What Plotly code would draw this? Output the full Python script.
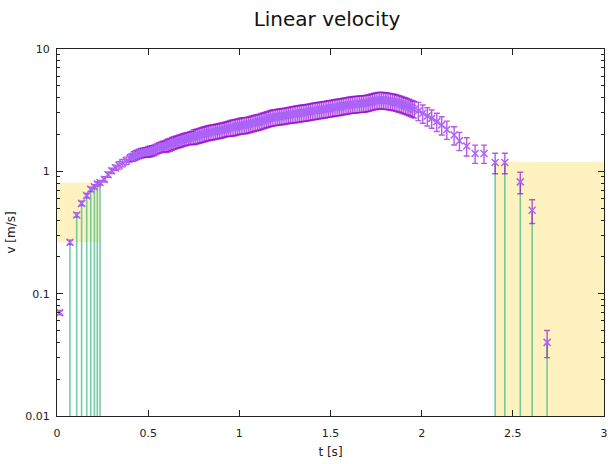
import plotly.graph_objects as go

# ---- data ----
t_pts = [
    0.015, 0.071, 0.108, 0.135, 0.163, 0.185, 0.205, 0.221, 0.236,
    0.26, 0.28, 0.30, 0.32, 0.34, 0.36, 0.38,
    0.40, 0.41, 0.42, 0.43, 0.44, 0.45, 0.46, 0.47, 0.48, 0.49,
    0.50, 0.51, 0.52, 0.53, 0.54, 0.55, 0.56, 0.57, 0.58, 0.59,
    0.60, 0.61, 0.62, 0.63, 0.64, 0.65, 0.66, 0.67, 0.68, 0.69,
    0.70, 0.71, 0.72, 0.73, 0.74, 0.75, 0.76, 0.77, 0.78, 0.79,
    0.80, 0.81, 0.82, 0.83, 0.84, 0.85, 0.86, 0.87, 0.88, 0.89,
    0.90, 0.91, 0.92, 0.93, 0.94, 0.95, 0.96, 0.97, 0.98, 0.99,
    1.00, 1.01, 1.02, 1.03, 1.04, 1.05, 1.06, 1.07, 1.08, 1.09,
    1.10, 1.11, 1.12, 1.13, 1.14, 1.15, 1.16, 1.17, 1.18, 1.19,
    1.20, 1.21, 1.22, 1.23, 1.24, 1.25, 1.26, 1.27, 1.28, 1.29,
    1.30, 1.31, 1.32, 1.33, 1.34, 1.35, 1.36, 1.37, 1.38, 1.39,
    1.40, 1.41, 1.42, 1.43, 1.44, 1.45, 1.46, 1.47, 1.48, 1.49,
    1.50, 1.51, 1.52, 1.53, 1.54, 1.55, 1.56, 1.57, 1.58, 1.59,
    1.60, 1.61, 1.62, 1.63, 1.64, 1.65, 1.66, 1.67, 1.68, 1.69,
    1.70, 1.71, 1.72, 1.73, 1.74, 1.75, 1.76, 1.77, 1.78, 1.79,
    1.80, 1.81, 1.82, 1.83, 1.84, 1.85, 1.86, 1.87, 1.88, 1.89,
    1.90, 1.91, 1.92, 1.93, 1.94, 1.95, 1.96,
    1.982, 2.006, 2.031, 2.055, 2.083, 2.110, 2.138, 2.178, 2.207,
    2.247, 2.293, 2.342, 2.403, 2.456, 2.541, 2.606, 2.688,
]
v_pts = [
    0.070, 0.263, 0.44, 0.547, 0.633, 0.713, 0.749, 0.79, 0.81,
    0.86, 0.94, 1.01, 1.07, 1.12, 1.17, 1.22,
    1.28, 1.30, 1.33, 1.35, 1.37, 1.39, 1.41, 1.42, 1.43, 1.44,
    1.45, 1.46, 1.47, 1.49, 1.51, 1.54, 1.56, 1.58, 1.60, 1.61,
    1.62, 1.64, 1.66, 1.69, 1.71, 1.73, 1.75, 1.77, 1.79, 1.81,
    1.83, 1.85, 1.86, 1.88, 1.90, 1.92, 1.93, 1.95, 1.97, 1.99,
    2.01, 2.03, 2.05, 2.07, 2.09, 2.10, 2.11, 2.13, 2.14, 2.16,
    2.17, 2.19, 2.21, 2.23, 2.25, 2.27, 2.28, 2.30, 2.31, 2.33,
    2.35, 2.37, 2.38, 2.39, 2.40, 2.42, 2.44, 2.47, 2.49, 2.51,
    2.53, 2.55, 2.58, 2.61, 2.64, 2.67, 2.70, 2.73, 2.75, 2.77,
    2.78, 2.80, 2.81, 2.83, 2.84, 2.86, 2.87, 2.89, 2.91, 2.93,
    2.94, 2.96, 2.97, 2.99, 3.00, 3.02, 3.03, 3.05, 3.07, 3.09,
    3.11, 3.13, 3.14, 3.16, 3.18, 3.20, 3.21, 3.23, 3.25, 3.27,
    3.29, 3.31, 3.33, 3.35, 3.36, 3.38, 3.40, 3.43, 3.45, 3.47,
    3.49, 3.51, 3.52, 3.54, 3.55, 3.56, 3.57, 3.59, 3.60, 3.61,
    3.63, 3.66, 3.69, 3.73, 3.76, 3.79, 3.82, 3.83, 3.83, 3.82,
    3.80, 3.78, 3.76, 3.74, 3.72, 3.69, 3.66, 3.62, 3.58, 3.54,
    3.50, 3.46, 3.42, 3.37, 3.32, 3.27, 3.22,
    3.13, 2.98, 2.83, 2.71, 2.55, 2.39, 2.20, 1.98, 1.78,
    1.61, 1.40, 1.40, 1.18, 1.18, 0.82, 0.48, 0.040,
]

# relative error (step table): from t >= start
err_step_t = [0.0, 0.26, 0.34, 0.42, 0.50, 0.60, 0.75, 0.95, 1.30, 1.97, 2.40, 2.50, 2.58, 2.65]
err_step_rel = [0.04, 0.05, 0.07, 0.09, 0.10, 0.12, 0.14, 0.15, 0.155, 0.17, 0.19, 0.20, 0.22, 0.25]

# impulse (vertical line) samples
imp_t = [0.071, 0.108, 0.135, 0.163, 0.185, 0.205, 0.221, 0.236,
         2.403, 2.456, 2.541, 2.606, 2.688]
imp_v = [0.263, 0.44, 0.547, 0.633, 0.713, 0.749, 0.79, 0.81,
         1.18, 1.18, 0.82, 0.48, 0.040]

# shaded boxes: [t0, t1], [v0, v1]
box_left_t = [0.0, 0.236]
box_left_v = [0.263, 0.81]
box_right_t = [2.403, 3.0]
box_right_v = [0.01, 1.19]

x_range = [0, 3]
y_range_log = [-2, 1]
y_ticks = [0.01, 0.1, 1, 10]
y_ticklabels = ["0.01", "0.1", "1", "10"]

FONT = "DejaVu Sans"
fig = go.Figure()

for bt, bv in ((box_left_t, box_left_v), (box_right_t, box_right_v)):
    fig.add_trace(go.Scatter(
        x=[bt[0], bt[1], bt[1], bt[0], bt[0]],
        y=[bv[0], bv[0], bv[1], bv[1], bv[0]],
        mode="lines", fill="toself", fillcolor="#fdf2c0",
        line=dict(width=0), hoverinfo="skip", showlegend=False))

ix, iy = [], []
for t, v in zip(imp_t, imp_v):
    ix += [t, t, None]
    iy += [10 ** y_range_log[0], v, None]
fig.add_trace(go.Scatter(
    x=ix, y=iy, mode="lines",
    line=dict(color="rgba(70,190,140,0.75)", width=1.6),
    hoverinfo="skip", showlegend=False))


def rel_for(t):
    r = err_step_rel[0]
    for s, val in zip(err_step_t, err_step_rel):
        if t >= s:
            r = val
    return r


err = [v * rel_for(t) for t, v in zip(t_pts, v_pts)]
fig.add_trace(go.Scatter(
    x=t_pts, y=v_pts, mode="markers",
    marker=dict(symbol="x-thin-open", size=7,
                line=dict(color="#8800cc", width=1.5)),
    error_y=dict(type="data", array=err, visible=True,
                 color="rgba(148,10,211,0.68)", thickness=1.4, width=3),
    showlegend=False))

axis_common = dict(
    showline=True, linecolor="#222", linewidth=1.3, mirror="allticks",
    ticks="inside", ticklen=6, tickcolor="#222", tickwidth=1,
    showgrid=False, zeroline=False, automargin=False,
    tickfont=dict(family=FONT, size=11, color="#222"),
)

fig.update_layout(
    width=608, height=464,
    margin=dict(l=57, r=4, t=49, b=48),
    paper_bgcolor="white", plot_bgcolor="white",
    title=dict(text="Linear velocity", x=327 / 608, xref="container", xanchor="center",
               y=1 - 19 / 464, yref="container", yanchor="middle",
               font=dict(family=FONT, size=20, color="#111")),
    xaxis=dict(range=x_range, dtick=0.5, tick0=0, ticklabelstandoff=7,
               title=dict(text="t [s]", standoff=8,
                          font=dict(family=FONT, size=12, color="#222")),
               **axis_common),
    yaxis=dict(type="log", range=y_range_log, tickvals=y_ticks,
               ticktext=y_ticklabels, ticklabelstandoff=4,
               minor=dict(ticks="inside", ticklen=3, tickcolor="#222",
                          dtick="D1", showgrid=False),
               title=dict(text="v [m/s]", standoff=6,
                          font=dict(family=FONT, size=12, color="#222")),
               **axis_common),
)

fig.write_html(
    "out.html",
    config={"displayModeBar": False},
    post_script="document.body.style.margin='0';document.body.style.overflow='hidden';",
)
